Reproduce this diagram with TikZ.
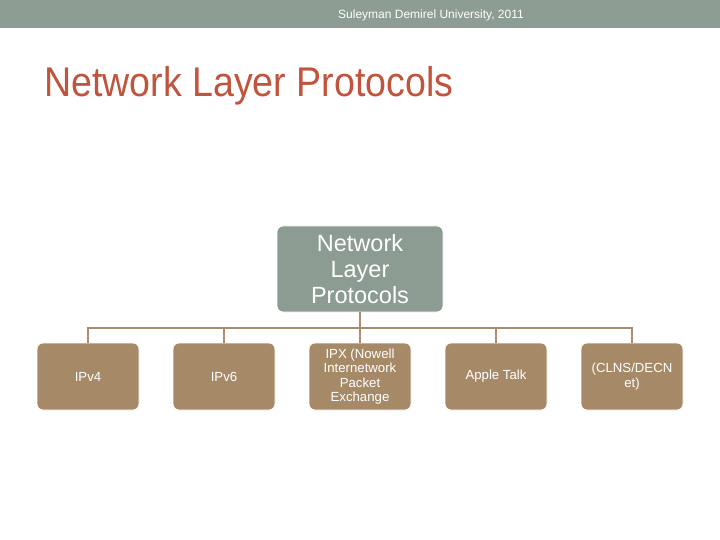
\documentclass[tikz,border=0pt]{standalone}
\usepackage{fontspec}
\setmainfont{Liberation Sans}
\definecolor{barc}{RGB}{142,157,147}
\definecolor{titlec}{RGB}{192,84,60}
\definecolor{rootc}{RGB}{140,156,146}
\definecolor{childc}{RGB}{166,138,104}
\definecolor{linec}{RGB}{170,140,110}
\begin{document}
\begin{tikzpicture}[x=1pt,y=-1pt,
  rootbox/.style={rectangle,rounded corners=6pt,fill=rootc,draw=white,line width=0.8pt,
    minimum width=166pt,minimum height=86pt,inner sep=0pt,text=white,align=center,
    font=\fontsize{23.5}{26}\selectfont},
  childbox/.style={rectangle,rounded corners=6pt,fill=childc,draw=white,line width=0.8pt,
    minimum width=102pt,minimum height=67pt,inner sep=0pt,text=white,align=center,
    font=\fontsize{13.2}{14.5}\selectfont},
  conn/.style={draw=linec,line width=1.6pt}]
\useasboundingbox (0,0) rectangle (720,540);
\fill[white] (0,0) rectangle (720,540);
\fill[barc] (0,0) rectangle (720,28);
\node[text=white,font=\fontsize{12}{14}\selectfont] (hdr) at (431,15) {Suleyman Demirel University, 2011};
\node[anchor=base west,inner sep=0pt,text=titlec,font=\fontsize{41.5}{44}\selectfont] (title) at (44,97) {\scalebox{0.905}[1]{Network Layer Protocols}};
\node[rootbox] (root) at (360,269) {Network\\Layer\\Protocols};
\node[childbox] (c1) at (88,376.5) {IPv4};
\node[childbox] (c2) at (224,376.5) {IPv6};
\node[childbox] (c3) at (360,376.5) {IPX (Nowell\\Internetwork\\Packet\\Exchange};
\node[childbox] (c4) at (496,376.5) {Apple Talk};
\node[childbox] (c5) at (632,376.5) {(CLNS/DECN\\et)};
\coordinate (bus) at (360,328);
\draw[conn] (root.south) -- (bus);
\foreach \c in {c1,c2,c3,c4,c5}{
  \draw[conn] (bus) -| (\c.north);
}
\end{tikzpicture}
\end{document}
